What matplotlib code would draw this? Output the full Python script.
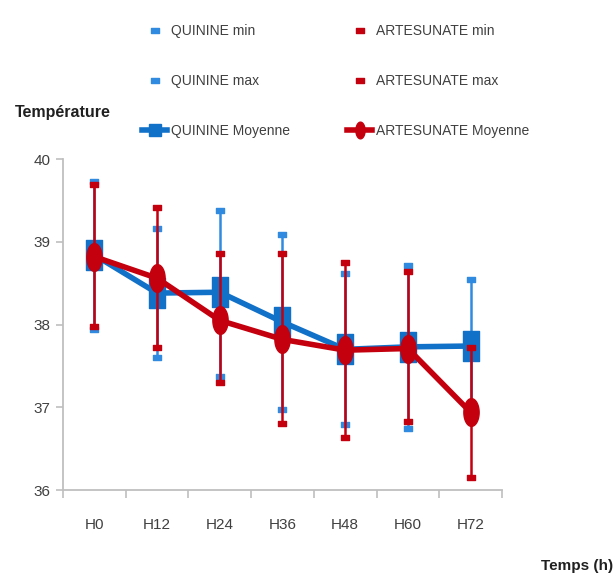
import numpy as np
import matplotlib
matplotlib.use("Agg")
import matplotlib.pyplot as plt
from matplotlib.path import Path
from matplotlib.lines import Line2D

plt.rcParams['font.family'] = ['Liberation Sans Narrow', 'Liberation Sans', 'DejaVu Sans']

# data
temps = ['H0', 'H12', 'H24', 'H36', 'H48', 'H60', 'H72']
quinine_moy = [38.84, 38.38, 38.39, 38.03, 37.70, 37.73, 37.74]
quinine_min = [37.95, 37.61, 37.38, 36.98, 36.80, 36.75, 36.95]
quinine_max = [39.74, 39.17, 39.38, 39.09, 38.62, 38.72, 38.55]
artes_moy = [38.82, 38.56, 38.05, 37.82, 37.69, 37.71, 36.94]
artes_min = [37.98, 37.73, 37.30, 36.81, 36.64, 36.83, 36.16]
artes_max = [39.70, 39.42, 38.86, 38.87, 38.75, 38.65, 37.73]

blue = '#1170C8'
blue_light = '#2F8AE0'
red = '#C4000E'

# tall markers (picture is stretched vertically)
tall_rect = Path([(-0.5, -1), (0.5, -1), (0.5, 1), (-0.5, 1), (-0.5, -1)], closed=True)
t = np.linspace(0, 2 * np.pi, 60)
tall_ell = Path(np.column_stack([0.55 * np.cos(t), np.sin(t)]), closed=True)
dash = Path([(-1, -0.6), (1, -0.6), (1, 0.6), (-1, 0.6), (-1, -0.6)], closed=True)

fig = plt.figure(figsize=(6.15, 5.81), dpi=100)
ax = fig.add_axes([0.1024, 0.1566, 0.7138, 0.5697])

x = np.arange(len(temps))

# quinine whiskers + mean
ax.vlines(x, quinine_min, quinine_max, color=blue_light, lw=1.8, zorder=2)
ax.plot(x, quinine_min, ls='none', marker=dash, ms=6, color=blue_light, zorder=2)
ax.plot(x, quinine_max, ls='none', marker=dash, ms=6, color=blue_light, zorder=2)
ax.plot(x, quinine_moy, color=blue, lw=4, marker=tall_rect, ms=22, zorder=3)

# artesunate whiskers + mean
ax.vlines(x, artes_min, artes_max, color=red, lw=1.8, zorder=4)
ax.plot(x, artes_min, ls='none', marker=dash, ms=6, color=red, zorder=4)
ax.plot(x, artes_max, ls='none', marker=dash, ms=6, color=red, zorder=4)
ax.plot(x, artes_moy, color=red, lw=4, marker=tall_ell, ms=20, zorder=5)

ax.set_xlim(-0.5, len(temps) - 0.5)
ax.set_ylim(36, 40)
ax.set_yticks([36, 37, 38, 39, 40])
ax.set_xticks(x)
ax.set_xticklabels(temps)
ax.set_xticks(np.arange(-0.5, len(temps)), minor=True)
ax.tick_params(axis='x', which='major', length=0, pad=20, labelsize=11, labelcolor='#404040')
ax.tick_params(axis='x', which='minor', length=6, color='#bfbfbf', width=1.2)
ax.tick_params(axis='y', length=5, color='#bfbfbf', width=1.2, labelsize=11,
               labelcolor='#404040', pad=4)
for s in ['top', 'right']:
    ax.spines[s].set_visible(False)
for s in ['left', 'bottom']:
    ax.spines[s].set_color('#bfbfbf')
    ax.spines[s].set_linewidth(1.3)

leg_kw = dict(loc='upper left', frameon=False, fontsize=10, labelspacing=2.6,
              handlelength=1.8, handletextpad=0.3, labelcolor='#404040',
              borderpad=0, borderaxespad=0)
q_handles = [
    Line2D([], [], ls='none', marker=dash, ms=6, color=blue_light),
    Line2D([], [], ls='none', marker=dash, ms=6, color=blue_light),
    Line2D([], [], color=blue, lw=4, marker='s', ms=9),
]
a_handles = [
    Line2D([], [], ls='none', marker=dash, ms=6, color=red),
    Line2D([], [], ls='none', marker=dash, ms=6, color=red),
    Line2D([], [], color=red, lw=4, marker=tall_ell, ms=12),
]
leg1 = fig.legend(q_handles, ['QUININE min', 'QUININE max', 'QUININE Moyenne'],
                  bbox_to_anchor=(142 / 615, 1 - 24 / 581), **leg_kw)
leg2 = fig.legend(a_handles, ['ARTESUNATE min', 'ARTESUNATE max', 'ARTESUNATE Moyenne'],
                  bbox_to_anchor=(347 / 615, 1 - 24 / 581), **leg_kw)

fig.text(0.024, 1 - 113 / 581, 'Température', fontsize=11.5, fontweight='bold',
         va='center', ha='left', color='#202020')
fig.text(0.997, 1 - 566 / 581, 'Temps (h)', fontsize=11, fontweight='bold',
         va='center', ha='right', color='#202020')

fig.savefig('out.png', dpi=100)
